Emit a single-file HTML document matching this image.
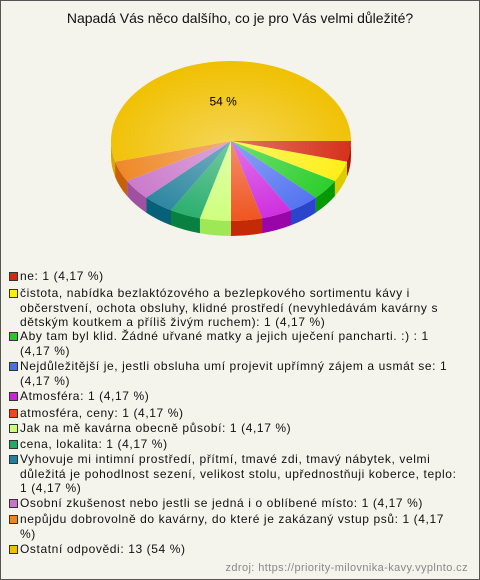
<!DOCTYPE html>
<html><head><meta charset="utf-8"><style>
body{margin:0;}
#frame{position:relative;width:478px;height:578px;border:1px solid #555;background:#f4f4ec;font-family:"Liberation Sans",Arial,sans-serif;overflow:hidden;}
#title{position:absolute;left:0;width:478px;top:9px;text-align:center;font-size:14px;color:#111;}
.item{position:absolute;left:19px;font-size:12px;line-height:14.5px;color:#111;white-space:nowrap;letter-spacing:0.6px;}
.sw{position:absolute;left:-11px;top:3px;width:7px;height:7px;border:1px solid #333;}
#src{position:absolute;right:11px;top:561px;font-size:11px;color:#888;letter-spacing:0.4px;}
</style></head><body>
<div id="frame">
<div id="title">Napadá Vás něco dalšího, co je pro Vás velmi důležité?</div>
<svg id="pie" width="478" height="260" style="position:absolute;left:0;top:0"></svg>
<div id="legend"></div>
<div id="src">zdroj: https://priority-milovnika-kavy.vyplnto.cz</div>
</div>
<script>
const labels=["ne: 1 (4,17 %)",
"čistota, nabídka bezlaktózového a bezlepkového sortimentu kávy i<br>občerstvení, ochota obsluhy, klidné prostředí (nevyhledávám kavárny s<br>dětským koutkem a příliš živým ruchem): 1 (4,17 %)",
"Aby tam byl klid. Žádné uřvané matky a jejich uječení pancharti. :) : 1<br>(4,17 %)",
"Nejdůležitější je, jestli obsluha umí projevit upřímný zájem a usmát se: 1<br>(4,17 %)",
"Atmosféra: 1 (4,17 %)",
"atmosféra, ceny: 1 (4,17 %)",
"Jak na mě kavárna obecně působí: 1 (4,17 %)",
"cena, lokalita: 1 (4,17 %)",
"Vyhovuje mi intimní prostředí, přítmí, tmavé zdi, tmavý nábytek, velmi<br>důležitá je pohodlnost sezení, velikost stolu, upřednostňuji koberce, teplo:<br>1 (4,17 %)",
"Osobní zkušenost nebo jestli se jedná i o oblíbené místo: 1 (4,17 %)",
"nepůjdu dobrovolně do kavárny, do které je zakázaný vstup psů: 1 (4,17<br>%)",
"Ostatní odpovědi: 13 (54 %)"];
const values=[1,1,1,1,1,1,1,1,1,1,1,13];
const colors=["#d42a12","#ffee11","#22cc22","#4a6cf0","#cc22dd","#ee4a12","#ccff77","#1faa66","#22809c","#c874c8","#ee8420","#f0c000"];
const dark=["#a81505","#ddcc00","#069906","#2a45cc","#9a05aa","#c42a05","#9ee855","#088040","#066078","#a050a0","#c86005","#d8a800"];
const legendTops=[268,285,328,358,388,405,420,436,451,495,511,541];

const svg=document.getElementById('pie');
const NS="http://www.w3.org/2000/svg";
const cx=230,cy=140,rx=120,ry=80,depth=15;
const total=values.reduce((a,b)=>a+b,0);
function pt(a,dy){return [cx+rx*Math.cos(a),cy+dy+ry*Math.sin(a)];}
let defs=document.createElementNS(NS,'defs');
defs.innerHTML='<radialGradient id="hl" cx="0.5" cy="0.55" r="0.55"><stop offset="0" stop-color="#fff" stop-opacity="0.35"/><stop offset="1" stop-color="#fff" stop-opacity="0"/></radialGradient>';
svg.appendChild(defs);
let angles=[];let acc=0;
values.forEach(v=>{let a1=acc/total*2*Math.PI;acc+=v;angles.push([a1,acc/total*2*Math.PI]);});
angles.forEach(([a1,a2],i)=>{
  let s=Math.max(a1,0),e=Math.min(a2,Math.PI);
  if(e<=s)return;
  let p1=pt(s,0),p2=pt(e,0),p3=pt(e,depth),p4=pt(s,depth);
  let p=document.createElementNS(NS,'path');
  p.setAttribute('d',`M${p1} A${rx},${ry} 0 0 1 ${p2} L${p3} A${rx},${ry} 0 0 0 ${p4} Z`);
  p.setAttribute('fill',dark[i]);
  
  
  svg.appendChild(p);
});
angles.forEach(([a1,a2],i)=>{
  let p1=pt(a1,0),p2=pt(a2,0);
  let large=(a2-a1)>Math.PI?1:0;
  let p=document.createElementNS(NS,'path');
  p.setAttribute('d',`M${cx},${cy} L${p1} A${rx},${ry} 0 ${large} 1 ${p2} Z`);
  p.setAttribute('fill',colors[i]);
  
  
  svg.appendChild(p);
});
let hl=document.createElementNS(NS,'ellipse');
hl.setAttribute('cx',cx);hl.setAttribute('cy',cy);hl.setAttribute('rx',rx);hl.setAttribute('ry',ry);hl.setAttribute('fill','url(#hl)');


svg.appendChild(hl);
angles.forEach(([a1,a2],i)=>{
  if(values[i]/total<0.1)return;
  let m=(a1+a2)/2;
  let t=document.createElementNS(NS,'text');
  t.setAttribute('x',cx+rx*0.5*Math.cos(m));t.setAttribute('y',cy+ry*0.5*Math.sin(m)+4);
  t.setAttribute('text-anchor','middle');t.setAttribute('font-size','12');
  t.setAttribute('font-family','Liberation Sans, Arial, sans-serif');
  t.textContent=Math.round(values[i]/total*100)+' %';
  
  
  svg.appendChild(t);
});
const lg=document.getElementById('legend');
labels.forEach((l,i)=>{
  let d=document.createElement('div');
  d.className='item';d.style.top=legendTops[i]+'px';
  d.innerHTML='<span class="sw" style="background:'+colors[i]+'"></span>'+l;
  
  
  lg.appendChild(d);
});
</script>
</body></html>
